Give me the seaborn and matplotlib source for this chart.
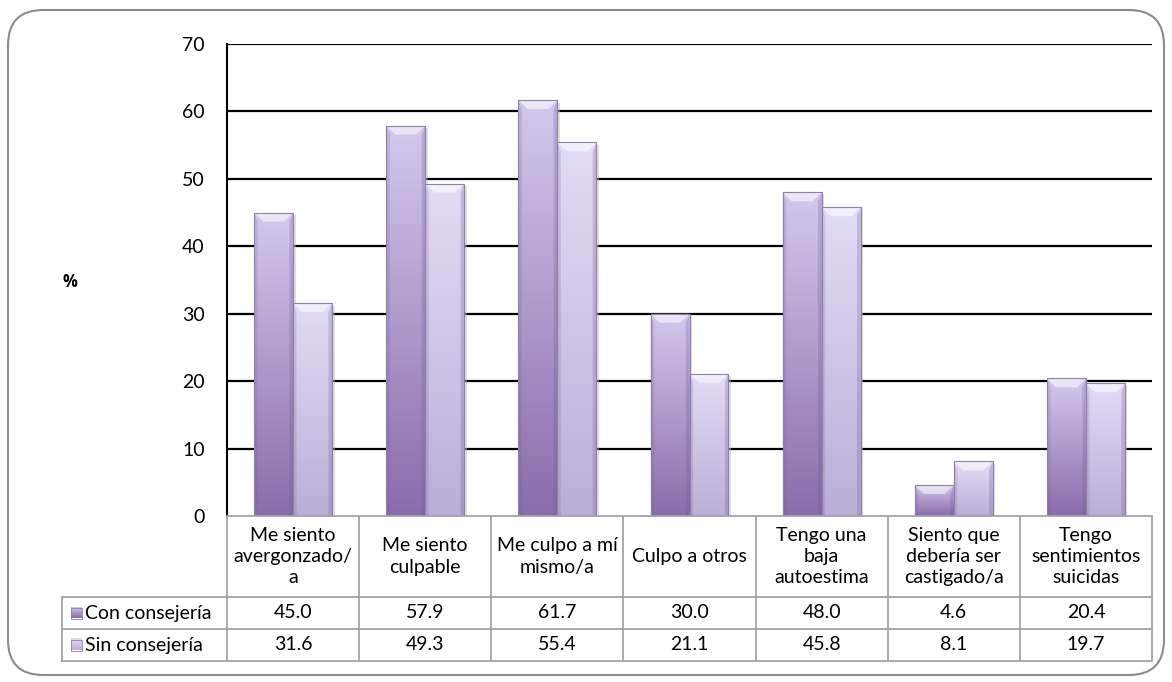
import numpy as np
import pandas as pd
import matplotlib
matplotlib.use("Agg")
import matplotlib.pyplot as plt
import matplotlib.transforms as mtrans
from matplotlib.patches import FancyBboxPatch, Polygon, Rectangle
from matplotlib.colors import to_rgb
import seaborn as sns

# ---- data -------------------------------------------------------------
categories = [
    "Me siento\navergonzado/\na",
    "Me siento\nculpable",
    "Me culpo a mí\nmismo/a",
    "Culpo a otros",
    "Tengo una\nbaja\nautoestima",
    "Siento que\ndebería ser\ncastigado/a",
    "Tengo\nsentimientos\nsuicidas",
]
series_names = ["Con consejería", "Sin consejería"]
con_consejeria = [45.0, 57.9, 61.7, 30.0, 48.0, 4.6, 20.4]
sin_consejeria = [31.6, 49.3, 55.4, 21.1, 45.8, 8.1, 19.7]
y_ticks = [0, 10, 20, 30, 40, 50, 60, 70]

df = pd.DataFrame({
    "cat": categories * 2,
    "serie": [series_names[0]] * len(categories) + [series_names[1]] * len(categories),
    "valor": con_consejeria + sin_consejeria,
})

# gradient colours (bottom, top) per series
grad = {
    series_names[0]: ("#8a6cab", "#d4c8ee"),
    series_names[1]: ("#bcaed6", "#e4dbf6"),
}

sns.set_theme(style="white")
plt.rcParams["font.family"] = ["Lato", "DejaVu Sans"]

W, H = 11.72, 6.82
fig = plt.figure(figsize=(W, H), dpi=100)
fig.patch.set_facecolor("white")

ax_l, ax_r, ax_t, ax_b = 227, 1152, 44, 516
ax = fig.add_axes([ax_l / 1172, 1 - ax_b / 682, (ax_r - ax_l) / 1172, (ax_b - ax_t) / 682])

palette = {k: v[0] for k, v in grad.items()}
sns.barplot(data=df, x="cat", y="valor", hue="serie", hue_order=series_names,
            order=categories, palette=palette, width=0.59, gap=0,
            legend=False, ax=ax, zorder=3, edgecolor="none")

fs = 14
ax.set_xlim(-0.5, len(categories) - 0.5)
ax.set_ylim(0, 70)
ax.set_yticks(y_ticks)
ax.set_xticks([])
ax.set_xlabel("")
ax.set_ylabel("")
ax.tick_params(axis="y", length=0, pad=16, labelsize=fs, labelcolor="black")
for s in ["top", "right", "bottom"]:
    ax.spines[s].set_visible(False)
ax.spines["left"].set_color("black")
ax.spines["left"].set_linewidth(1.5)
for t in y_ticks[1:]:
    ax.axhline(t, color="black", lw=1.6, zorder=1)


def vgrad(c0, c1, n=128):
    a, b = np.array(to_rgb(c0)), np.array(to_rgb(c1))
    f = np.linspace(0, 1, n)[:, None]
    return (a * (1 - f) + b * f)[:, None, :]


# gradient fill, bevel and thin edge for every bar
px_per_y = (ax_b - ax_t) / 70.0
px_per_x = (ax_r - ax_l) / len(categories)
bev_y = 9 / px_per_y
bev_x = 9 / px_per_x
for name, cont in zip(series_names, ax.containers):
    c0, c1 = grad[name]
    for bar in cont:
        x0, w, h = bar.get_x(), bar.get_width(), bar.get_height()
        x1 = x0 + w
        # soft shadow on the right
        ax.add_patch(Rectangle((x1, 0), 2.5 / px_per_x, max(h - 0.4, 0),
                               facecolor="#b8b8b8", alpha=0.45, edgecolor="none", zorder=2.5))
        im = ax.imshow(vgrad(c0, c1), extent=[x0, x1, 0, h], origin="lower",
                       aspect="auto", zorder=3.1, interpolation="bilinear")
        im.set_clip_path(bar)
        bar.set_facecolor("none")
        # top bevel highlight
        by = min(bev_y, h * 0.5)
        bx = min(bev_x, w * 0.3)
        ax.add_patch(Polygon([[x0, h], [x1, h], [x1 - bx, h - by], [x0 + bx, h - by]],
                             closed=True, facecolor="white", alpha=0.55,
                             edgecolor="none", zorder=3.2))
        # darker side bevels
        ax.add_patch(Polygon([[x0, 0], [x0 + bx * 0.4, 0], [x0 + bx * 0.4, h - by], [x0, h]],
                             closed=True, facecolor="#6d5590", alpha=0.18,
                             edgecolor="none", zorder=3.2))
        ax.add_patch(Polygon([[x1, 0], [x1 - bx * 0.4, 0], [x1 - bx * 0.4, h - by], [x1, h]],
                             closed=True, facecolor="#6d5590", alpha=0.25,
                             edgecolor="none", zorder=3.2))
        ax.add_patch(Rectangle((x0, 0), w, h, facecolor="none",
                               edgecolor="#8e80a8", lw=0.8, zorder=3.3))

ax.set_xlim(-0.5, len(categories) - 0.5)
ax.set_ylim(0, 70)

# ---- data table beneath the axes -------------------------------------
tr = mtrans.blended_transform_factory(ax.transData, ax.transAxes)
ah = ax_b - ax_t


def fy(py):
    return (ax_b - py) / ah


row_cat_bot = fy(597)
row1_bot = fy(629)
row2_bot = fy(661)
leg_left = -0.5 - (ax_l - 62) / px_per_x
xr = len(categories) - 0.5
lc = "#a3a3a3"
lw = 1.3

# horizontal lines
ax.plot([-0.5, xr], [0, 0], transform=tr, color=lc, lw=lw, clip_on=False, zorder=5)
for yy in (row_cat_bot, row1_bot, row2_bot):
    ax.plot([leg_left, xr], [yy, yy], transform=tr, color=lc, lw=lw, clip_on=False, zorder=5)
# vertical lines
for i in range(len(categories) + 1):
    xx = i - 0.5
    ax.plot([xx, xx], [0, row2_bot], transform=tr, color=lc, lw=lw, clip_on=False, zorder=5)
ax.plot([leg_left, leg_left], [row_cat_bot, row2_bot], transform=tr, color=lc,
        lw=lw, clip_on=False, zorder=5)

for i, cat in enumerate(categories):
    ax.text(i, (0 + row_cat_bot) / 2, cat, transform=tr, ha="center", va="center",
            fontsize=fs, linespacing=1.3, color="black")
    ax.text(i, (row_cat_bot + row1_bot) / 2, f"{con_consejeria[i]:.1f}", transform=tr,
            ha="center", va="center", fontsize=fs, color="black")
    ax.text(i, (row1_bot + row2_bot) / 2, f"{sin_consejeria[i]:.1f}", transform=tr,
            ha="center", va="center", fontsize=fs, color="black")

# legend keys inside the table
for name, (ytop, ybot) in zip(series_names, [(row_cat_bot, row1_bot), (row1_bot, row2_bot)]):
    yc = (ytop + ybot) / 2
    kx0 = leg_left + 9 / px_per_x
    kw = 11 / px_per_x
    kh = 11 / ah
    c0, c1 = grad[name]
    im = ax.imshow(vgrad(c0, c1), extent=[kx0, kx0 + kw, yc - kh / 2, yc + kh / 2],
                   origin="lower", aspect="auto", transform=tr, zorder=6, clip_on=False)
    ax.add_patch(Rectangle((kx0, yc - kh / 2), kw, kh, transform=tr, facecolor="none",
                           edgecolor="#8e80a8", lw=0.6, zorder=6.1, clip_on=False))
    ax.text(kx0 + kw + 3 / px_per_x, yc, name, transform=tr, ha="left", va="center",
            fontsize=fs, color="black")

ax.set_xlim(-0.5, len(categories) - 0.5)
ax.set_ylim(0, 70)

# axis title
fig.text(70 / 1172, 1 - 282 / 682, "%", ha="center", va="center", fontsize=12,
         fontweight="bold", family=["Open Sans", "DejaVu Sans"], color="black")

# rounded outer frame
frame = FancyBboxPatch((8 / 1172, 1 - 675 / 682), (1164 - 8) / 1172, (675 - 10) / 682,
                       boxstyle="round,pad=0,rounding_size=0.03",
                       transform=fig.transFigure, facecolor="none",
                       edgecolor="#8c8c8c", lw=1.5, mutation_aspect=1172 / 682)
fig.patches.append(frame)

fig.savefig("out.png", dpi=100)
